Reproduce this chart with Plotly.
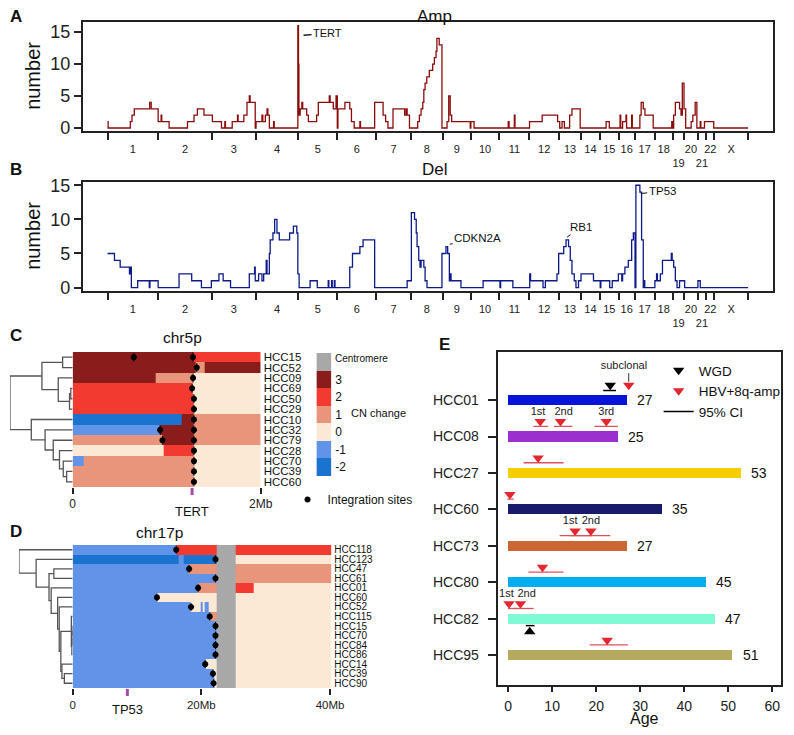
import plotly.graph_objects as go

OFF = 8                      # page body margin the figure sits inside
W, H = 794 - 2 * OFF, 735 - 2 * OFF
FONT = "Arial, Liberation Sans, sans-serif"

# ---------------- A / B : recurrent Amp / Del counts along the genome ----------------
chrom_names = ["1", "2", "3", "4", "5", "6", "7", "8", "9", "10", "11", "12", "13",
               "14", "15", "16", "17", "18", "19", "20", "21", "22", "X"]
# cumulative chromosome ends (Mb, approximate)
chrom_ends = [240, 495, 703, 905, 1089, 1273, 1438, 1589, 1721, 1857, 1999, 2140, 2244,
              2333, 2423, 2498, 2593, 2678, 2734, 2796, 2838, 2876, 3036]

# (genome position Mb, number of samples) step points
amp_steps = [(0, 1), (3, 0), (108, 1), (116, 2), (127, 3), (200, 4), (207, 3), (240, 1), (254, 2), (257, 1),
             (292, 0), (379, 1), (410, 2), (426, 3), (457, 2), (497, 1), (540, 0), (556, 1), (559, 0), (591, 1),
             (616, 2), (619, 1), (646, 2), (661, 4), (672, 5), (676, 4), (700, 0), (704, 1), (732, 2), (736, 1),
             (748, 2), (756, 3), (760, 2), (767, 0), (787, 1), (790, 0), (902, 16), (905, 10), (907, 2), (913, 3),
             (921, 4), (925, 3), (944, 2), (952, 1), (991, 2), (999, 4), (1051, 5), (1055, 4), (1070, 3), (1083, 5),
             (1089, 0), (1092, 3), (1125, 4), (1148, 3), (1156, 1), (1169, 0), (1196, 1), (1199, 0), (1266, 4),
             (1306, 2), (1318, 1), (1329, 0), (1353, 3), (1408, 2), (1415, 3), (1420, 2), (1431, 0), (1470, 1),
             (1478, 2), (1486, 3), (1494, 4), (1499, 6), (1505, 7), (1513, 8), (1525, 9), (1541, 10), (1549, 11),
             (1557, 12), (1561, 14), (1572, 13), (1585, 0), (1609, 1), (1617, 5), (1624, 2), (1631, 1), (1719, 0),
             (1722, 1), (1737, 0), (1899, 1), (1903, 0), (1928, 2), (1931, 0), (2000, 1), (2060, 2), (2133, 1),
             (2143, 0), (2154, 1), (2165, 0), (2190, 2), (2201, 3), (2240, 0), (2363, 1), (2378, 0), (2429, 2),
             (2432, 0), (2441, 1), (2457, 2), (2460, 0), (2484, 2), (2487, 0), (2523, 2), (2529, 4), (2539, 3),
             (2547, 2), (2586, 0), (2674, 1), (2677, 0), (2683, 2), (2691, 4), (2711, 3), (2718, 2), (2724, 7),
             (2732, 3), (2740, 0), (2766, 1), (2774, 2), (2785, 4), (2793, 0), (2809, 1), (2812, 0), (2829, 1),
             (2873, 0), (3036, 0)]

del_steps = [(0, 5), (33, 4), (60, 3), (104, 2), (108, 3), (113, 0), (143, 1), (198, 0), (201, 1), (240, 0),
             (339, 2), (399, 1), (445, 0), (492, 1), (528, 2), (548, 1), (583, 0), (672, 2), (697, 3), (700, 1),
             (716, 2), (732, 1), (740, 2), (752, 4), (756, 2), (767, 5), (771, 7), (784, 8), (792, 10), (803, 8),
             (814, 7), (863, 8), (881, 9), (897, 8), (902, 2), (908, 0), (960, 1), (994, 0), (1046, 1), (1049, 0),
             (1062, 1), (1065, 0), (1075, 1), (1078, 0), (1148, 3), (1161, 5), (1196, 6), (1211, 7), (1266, 0),
             (1420, 1), (1440, 11), (1455, 10), (1463, 8), (1467, 6), (1475, 4), (1481, 3), (1486, 4), (1499, 3),
             (1505, 1), (1514, 0), (1585, 5), (1604, 6), (1612, 5), (1620, 1), (1624, 2), (1628, 1), (1675, 0),
             (1780, 1), (1860, 0), (1863, 1), (1921, 0), (2001, 2), (2005, 1), (2064, 0), (2075, 1), (2130, 2),
             (2138, 5), (2162, 6), (2173, 7), (2185, 6), (2193, 4), (2201, 2), (2212, 1), (2220, 0), (2232, 1),
             (2244, 2), (2303, 1), (2335, 0), (2338, 1), (2380, 0), (2392, 1), (2421, 2), (2437, 1), (2441, 2),
             (2452, 3), (2468, 4), (2484, 7), (2492, 8), (2500, 0), (2504, 15), (2523, 14), (2531, 7), (2539, 0),
             (2542, 1), (2546, 0), (2594, 1), (2602, 2), (2606, 1), (2620, 2), (2630, 4), (2672, 5), (2676, 4),
             (2683, 3), (2691, 1), (2699, 0), (2711, 1), (2735, 0), (2798, 1), (2809, 0), (3036, 0)]

# gene labels: (name, position Mb, count at label anchor)
amp_genes = [("TERT", 929, 14.5)]
del_genes = [("CDKN2A", 1622, 6.35), ("RB1", 2178, 7.4), ("TP53", 2527, 13.8)]

# ---------------- C : chr5p copy number ----------------
c_samples = ["HCC15", "HCC52", "HCC09", "HCC69", "HCC50", "HCC29", "HCC10",
             "HCC32", "HCC79", "HCC28", "HCC70", "HCC39", "HCC60"]
c_ends = [[1.29, 2.0], [1.31, 1.40, 2.0], [0.885, 1.29, 2.0], [1.28, 2.0], [1.29, 2.0], [1.29, 2.0],
          [1.16, 1.29, 2.0], [0.93, 1.29, 2.0], [0.955, 1.29, 2.0], [0.97, 1.29, 2.0], [0.12, 1.29, 2.0],
          [1.29, 2.0], [1.29, 2.0]]
c_states = [[3, 2], [3, 1, 3], [3, 1, 0], [2, 0], [2, 0], [2, 0], [-2, 3, 1], [-1, 3, 1], [1, 3, 1],
            [0, 2, 0], [-1, 1, 0], [1, 0], [1, 0]]
c_site_sample = ["HCC15", "HCC15", "HCC52", "HCC09", "HCC69", "HCC50", "HCC29", "HCC10", "HCC32",
                 "HCC32", "HCC79", "HCC79", "HCC28", "HCC70", "HCC39", "HCC60"]
c_site_pos = [0.65, 1.28, 1.32, 1.28, 1.27, 1.29, 1.29, 1.29, 0.93, 1.29, 0.955, 1.29, 1.29, 1.29, 1.29, 1.29]
tert_pos = 1.27
c_merges = [("HCC15", "HCC52", 0.16), ("HCC69", "HCC50", 0.03), ("m1", "HCC29", 0.05),
            ("HCC09", "m2", 0.23), ("m0", "m3", 0.49), ("HCC39", "HCC60", 0.096), ("HCC70", "m5", 0.15),
            ("HCC28", "m6", 0.21), ("HCC79", "m7", 0.31), ("HCC32", "m8", 0.44), ("HCC10", "m9", 0.66),
            ("m4", "m10", 1.0)]

# ---------------- D : chr17p copy number ----------------
d_samples = ["HCC118", "HCC123", "HCC47", "HCC61", "HCC01", "HCC60", "HCC52", "HCC115",
             "HCC15", "HCC70", "HCC84", "HCC86", "HCC14", "HCC39", "HCC90"]
d_ends = [[16.1, 40.2], [16.5, 17.3, 22.4, 40.2], [18.1, 40.2], [22.4, 40.2], [19.5, 22.4, 28.1, 40.2],
          [13.1, 40.2], [18.4, 19.9, 20.2, 20.5, 21.1, 40.2], [21.5, 22.4, 40.2], [22.4, 40.2], [22.4, 40.2],
          [22.4, 40.2], [22.4, 40.2], [20.7, 40.2], [21.9, 40.2], [22.1, 40.2]]
d_states = [[-1, 2], [-2, -1, -2, 0], [-1, 1], [-1, 1], [-1, 1, 2, 0], [-1, 0], [-1, 0, -1, 0, -1, 0],
            [-1, 1, 0], [-1, 0], [-1, 0], [-1, 0], [-1, 0], [-1, 0], [-1, 0], [-1, 0]]
d_centromere = (22.4, 25.3)
d_site_sample = d_samples
d_site_pos = [16.1, 22.2, 18.1, 22.2, 19.5, 13.1, 18.4, 21.3, 22.2, 22.2, 22.2, 22.2, 20.6, 21.8, 21.9]
tp53_pos = 8.5
d_merges = [("HCC47", "HCC61", 0.35), ("HCC39", "HCC90", 0.155), ("HCC14", "m1", 0.20),
            ("HCC15", "HCC70", 0.01), ("m3", "HCC84", 0.012), ("m4", "HCC86", 0.015),
            ("HCC115", "m5", 0.025), ("m6", "m2", 0.22), ("HCC52", "m7", 0.25), ("HCC60", "m8", 0.28),
            ("HCC01", "m9", 0.40), ("m0", "m10", 0.44), ("HCC123", "m11", 0.68), ("HCC118", "m12", 1.0)]

cn_levels = [-2, -1, 0, 1, 2, 3, 4]          # 4 = centromere
cn_colors = ["#1a74cf", "#6193e8", "#fbe8d5", "#e9957b", "#f23a30", "#8b1c1c", "#a8a8a8"]

# ---------------- E : timing of events ----------------
e_samples = ["HCC01", "HCC08", "HCC27", "HCC60", "HCC73", "HCC80", "HCC82", "HCC95"]
e_age = [27, 25, 53, 35, 27, 45, 47, 51]
e_colors = ["#0a14d8", "#9b30cf", "#f7cf00", "#1a1a6b", "#cc6633", "#00aeef", "#7ffad4", "#b5a95f"]

hbv_sample = ["HCC01", "HCC08", "HCC08", "HCC08", "HCC27", "HCC60", "HCC73", "HCC73",
              "HCC80", "HCC82", "HCC82", "HCC95"]
hbv_age = [27.4, 7.3, 11.9, 22.3, 6.8, 0.4, 15.2, 18.8, 7.8, 0.2, 2.8, 22.5]
hbv_lo = [None, 5.7, 10.4, 19.6, 3.5, -0.2, 11.7, 14.0, 4.6, 0.0, 1.5, 18.5]
hbv_hi = [None, 9.1, 14.6, 24.9, 12.6, 1.3, 19.0, 23.2, 12.6, 2.1, 5.8, 27.2]
hbv_tag = ["subclonal", "1st", "2nd", "3rd", "", "", "1st", "2nd", "", "1st", "2nd", ""]
hbv_tag_age = [26.3, 6.8, 12.6, 22.3, None, None, 14.1, 18.8, None, -0.4, 4.2, None]

wgd_sample = ["HCC01", "HCC82"]
wgd_age = [23.2, 4.9]
wgd_lo = [21.6, 4.0]
wgd_hi = [24.5, 6.0]
wgd_below = [False, True]


def px(x):
    return (x - OFF) / W


def py(y):
    return 1 - (y - OFF) / H


def seg_grid(ends_list, states_list, centromere=None):
    edges = {0.0}
    for ends in ends_list:
        edges.update(ends)
    if centromere:
        edges.update(centromere)
    edges = sorted(edges)
    z = []
    for ends, states in zip(ends_list, states_list):
        row = []
        for a, b in zip(edges[:-1], edges[1:]):
            mid = (a + b) / 2
            if centromere and centromere[0] <= mid <= centromere[1]:
                row.append(4)
                continue
            val = states[-1]
            for e, s in zip(ends, states):
                if mid < e:
                    val = s
                    break
            row.append(val)
        z.append(row)
    return edges, z


def dendro_lines(leaves, merges):
    pos = {name: (i, 0.0) for i, name in enumerate(leaves)}
    xs, ys = [], []
    for k, (a, b, h) in enumerate(merges):
        ya, ha = pos[a]
        yb, hb = pos[b]
        xs += [ha, h, h, hb, None]
        ys += [ya, ya, yb, yb, None]
        pos[f"m{k}"] = ((ya + yb) / 2, h)
    return xs, ys


cscale = []
for i, c in enumerate(cn_colors):
    cscale += [[i / 7, c], [(i + 1) / 7, c]]

site_marker = dict(symbol="asterisk-open", size=5, color="black", line=dict(width=2, color="black"))
site_err = dict(type="constant", value=0.42, thickness=1, width=0, color="black")

fig = go.Figure()

# A / B lines
fig.add_trace(go.Scatter(x=[p for p, v in amp_steps], y=[v for p, v in amp_steps], mode="lines",
                         line=dict(color="#8b0a0a", width=1.3, shape="hv"), xaxis="x", yaxis="y",
                         showlegend=False, hoverinfo="skip"))
fig.add_trace(go.Scatter(x=[p for p, v in del_steps], y=[v for p, v in del_steps], mode="lines",
                         line=dict(color="#0d1a8a", width=1.3, shape="hv"), xaxis="x2", yaxis="y2",
                         showlegend=False, hoverinfo="skip"))

# C heatmap + dendrogram + sites
c_edges, c_z = seg_grid(c_ends, c_states)
fig.add_trace(go.Heatmap(x=c_edges, y=list(range(len(c_samples))), z=c_z, colorscale=cscale,
                         zmin=-2.5, zmax=4.5, showscale=False, xaxis="x3", yaxis="y3", hoverinfo="skip"))
cx, cy = dendro_lines(c_samples, c_merges)
fig.add_trace(go.Scatter(x=cx, y=cy, mode="lines", line=dict(color="#555", width=1.3),
                         xaxis="x4", yaxis="y4", showlegend=False, hoverinfo="skip"))
fig.add_trace(go.Scatter(x=c_site_pos, y=[c_samples.index(s) for s in c_site_sample], mode="markers",
                         marker=site_marker, error_y=site_err,
                         xaxis="x3", yaxis="y3", name="Integration sites", legend="legend2",
                         showlegend=True, hoverinfo="skip"))

# D heatmap + dendrogram + sites
d_edges, d_z = seg_grid(d_ends, d_states, d_centromere)
fig.add_trace(go.Heatmap(x=d_edges, y=list(range(len(d_samples))), z=d_z, colorscale=cscale,
                         zmin=-2.5, zmax=4.5, showscale=False, xaxis="x5", yaxis="y5", hoverinfo="skip"))
dx, dy = dendro_lines(d_samples, d_merges)
fig.add_trace(go.Scatter(x=dx, y=dy, mode="lines", line=dict(color="#555", width=1.3),
                         xaxis="x6", yaxis="y6", showlegend=False, hoverinfo="skip"))
fig.add_trace(go.Scatter(x=d_site_pos, y=[d_samples.index(s) for s in d_site_sample], mode="markers",
                         marker=site_marker, error_y=site_err,
                         xaxis="x5", yaxis="y5", showlegend=False, hoverinfo="skip"))

# C colour key (top: centromere, then 3 .. -2)
key_levels = [4] + sorted(cn_levels[:-1], reverse=True)
fig.add_trace(go.Heatmap(x=[0], y=list(range(len(key_levels))), z=[[v] for v in key_levels],
                         colorscale=cscale, zmin=-2.5, zmax=4.5, showscale=False,
                         xaxis="x8", yaxis="y8", hoverinfo="skip"))

# E bars
rows = list(range(len(e_samples)))
fig.add_trace(go.Bar(x=e_age, y=rows, base=0, orientation="h", width=0.28,
                     marker=dict(color=e_colors, line=dict(width=0)),
                     xaxis="x7", yaxis="y7", showlegend=False, hoverinfo="skip"))

# WGD CI (legend entry "95% CI") and HBV CIs
wx, wy = [], []
for s, lo, hi, below in zip(wgd_sample, wgd_lo, wgd_hi, wgd_below):
    r = e_samples.index(s)
    yy = r + 0.19 if below else r - 0.26
    wx += [lo, hi, None]
    wy += [yy, yy, None]
hx, hy = [], []
for s, lo, hi in zip(hbv_sample, hbv_lo, hbv_hi):
    if lo is None:
        continue
    r = e_samples.index(s)
    hx += [lo, hi, None]
    hy += [r - 0.28, r - 0.28, None]
fig.add_trace(go.Scatter(x=hx, y=hy, mode="lines", line=dict(color="#e0505a", width=1.3),
                         xaxis="x7", yaxis="y7", showlegend=False, hoverinfo="skip"))

# WGD triangles
for below in (False, True):
    xs = [a for a, b in zip(wgd_age, wgd_below) if b == below]
    ys = [e_samples.index(s) + (0.36 if below else -0.41) for s, b in zip(wgd_sample, wgd_below) if b == below]
    fig.add_trace(go.Scatter(x=xs, y=ys, mode="markers",
                             marker=dict(symbol="triangle-up" if below else "triangle-down", size=10, color="black"),
                             xaxis="x7", yaxis="y7", name="WGD", showlegend=not below, legendrank=1,
                             hoverinfo="skip"))
fig.add_trace(go.Scatter(x=hbv_age, y=[e_samples.index(s) - 0.41 for s in hbv_sample], mode="markers",
                         marker=dict(symbol="triangle-down", size=10, color="#e3262f"),
                         xaxis="x7", yaxis="y7", name="HBV+8q-amp", legendrank=2, hoverinfo="skip"))
fig.add_trace(go.Scatter(x=wx, y=wy, mode="lines", line=dict(color="black", width=1.5),
                         xaxis="x7", yaxis="y7", name="95% CI", legendrank=3, hoverinfo="skip"))

# event tags
tx, ty, tt = [], [], []
for s, a, t, ta in zip(hbv_sample, hbv_age, hbv_tag, hbv_tag_age):
    if not t:
        continue
    r = e_samples.index(s)
    if t == "subclonal":
        fig.add_trace(go.Scatter(x=[a, a], y=[r - 0.74, r - 0.5], mode="lines",
                                 line=dict(color="#333", width=1), xaxis="x7", yaxis="y7",
                                 showlegend=False, hoverinfo="skip"))
        ty.append(r - 0.93)
    else:
        ty.append(r - 0.68)
    tx.append(ta)
    tt.append(t)
fig.add_trace(go.Scatter(x=tx, y=ty, text=tt, mode="text", textposition="middle center",
                         textfont=dict(size=11, color="#222"), xaxis="x7", yaxis="y7",
                         showlegend=False, hoverinfo="skip"))

# ---------------- layout ----------------
chrom_starts = [0] + chrom_ends[:-1]
chrom_mids = [(a + b) / 2 for a, b in zip(chrom_starts, chrom_ends)]
chrom_text = ["<br>" + n if n in ("19", "21") else n for n in chrom_names]

genome_x = dict(range=[-118, 3154], showline=True, mirror=True, linecolor="#222", linewidth=1.5,
                showgrid=False, zeroline=False, tickmode="array", tickvals=chrom_mids, ticktext=chrom_text,
                tickangle=0, automargin=False,
                ticks="outside", ticklen=7, tickcolor="rgba(0,0,0,0)", tickfont=dict(size=11, color="#222"),
                minor=dict(tickmode="array", tickvals=chrom_starts + [chrom_ends[-1]], ticks="outside",
                           ticklen=7, tickcolor="#222", tickwidth=1.5))
count_y = dict(showline=True, mirror=True, linecolor="#222", linewidth=1.5, showgrid=False, zeroline=False,
               tickvals=[0, 5, 10, 15], ticks="outside", ticklen=7, tickwidth=1.5, tickcolor="#222",
               tickfont=dict(size=18, color="#222"), automargin=False)
hidden = dict(visible=False, showgrid=False, zeroline=False, automargin=False)

fig.update_layout(
    template="none",
    width=W, height=H, margin=dict(l=0, r=0, t=0, b=0, pad=0),
    paper_bgcolor="white", plot_bgcolor="white",
    font=dict(family=FONT, color="#111"),
    xaxis=dict(genome_x, domain=[px(83), px(777)], anchor="y"),
    yaxis=dict(count_y, domain=[py(131), py(22)], range=[-0.47, 16.57], anchor="x"),
    xaxis2=dict(genome_x, domain=[px(83), px(777)], anchor="y2"),
    yaxis2=dict(count_y, domain=[py(291), py(182)], range=[-0.5, 15.48], anchor="x2"),
    xaxis3=dict(domain=[px(73), px(262)], range=[0, 2.0], anchor="y3", showgrid=False, zeroline=False,
                showline=False, tickvals=[0, 2], ticktext=["0", "2Mb"], ticks="outside", ticklen=6, tickwidth=2,
                tickcolor="#222", tickfont=dict(size=12, color="#222"), automargin=False),
    yaxis3=dict(domain=[py(487), py(352)], range=[len(c_samples) - 0.5, -0.5], anchor="x3", side="right",
                showgrid=False, zeroline=False, showline=False, tickvals=list(range(len(c_samples))),
                ticktext=c_samples, ticks="", tickfont=dict(size=11.5, color="#111"), ticklabelstandoff=2,
                automargin=False),
    xaxis4=dict(hidden, domain=[px(10), px(73)], range=[1.0, 0], anchor="y4"),
    yaxis4=dict(hidden, domain=[py(487), py(352)], range=[len(c_samples) - 0.5, -0.5], anchor="x4"),
    xaxis5=dict(domain=[px(73), px(333)], range=[0, 40.2], anchor="y5", showgrid=False, zeroline=False,
                showline=False, tickvals=[0, 20, 40], ticktext=["0", "20Mb", "40Mb"], ticks="outside", ticklen=6,
                tickwidth=2, tickcolor="#222", tickfont=dict(size=11.5, color="#222"), automargin=False),
    yaxis5=dict(domain=[py(688), py(545)], range=[len(d_samples) - 0.5, -0.5], anchor="x5", side="right",
                showgrid=False, zeroline=False, showline=False, tickvals=list(range(len(d_samples))),
                ticktext=d_samples, ticks="", tickfont=dict(size=10, color="#111"), ticklabelstandoff=2,
                automargin=False),
    xaxis6=dict(hidden, domain=[px(19), px(73)], range=[1.0, 0], anchor="y6"),
    yaxis6=dict(hidden, domain=[py(688), py(545)], range=[len(d_samples) - 0.5, -0.5], anchor="x6"),
    xaxis7=dict(domain=[px(501), px(785)], range=[-2.2, 62], anchor="y7", showline=True, mirror=True,
                linecolor="#222", linewidth=1.5, showgrid=False, zeroline=False,
                tickvals=[0, 10, 20, 30, 40, 50, 60], ticks="outside", ticklen=5, tickwidth=1.5,
                tickcolor="#222", tickfont=dict(size=14, color="#222"), ticklabelstandoff=2, automargin=False),
    yaxis7=dict(domain=[py(685), py(352)], range=[7.82, -1.32], anchor="x7", showline=True, mirror=True,
                linecolor="#222", linewidth=1.5, showgrid=False, zeroline=False, tickvals=rows,
                ticktext=e_samples, ticks="outside", ticklen=9, tickwidth=1.5, tickcolor="#222",
                tickfont=dict(size=14, color="#222"), ticklabelstandoff=6, automargin=False),
    xaxis8=dict(hidden, domain=[px(318), px(333)], anchor="y8"),
    yaxis8=dict(domain=[py(476), py(353)], range=[len(key_levels) - 0.5, -0.5], anchor="x8", side="right",
                showgrid=False, zeroline=False, showline=False, tickvals=list(range(len(key_levels))),
                ticktext=[""] + [str(v) for v in key_levels[1:]],
                ticks="", tickfont=dict(size=12, color="#111"), ticklabelstandoff=3, automargin=False),
    legend=dict(x=px(662), y=py(355), xanchor="left", yanchor="top", font=dict(size=13.5, color="#111"),
                bgcolor="rgba(0,0,0,0)", itemwidth=30, tracegroupgap=0),
    legend2=dict(x=px(289), y=py(485), xanchor="left", yanchor="top", font=dict(size=12, color="#111"),
                 bgcolor="rgba(0,0,0,0)", itemwidth=30),
    bargap=0,
)

ann = []


def label(text, x, y, size, bold=False, xanchor="center", **kw):
    ann.append(dict(text=f"<b>{text}</b>" if bold else text, x=px(x), y=py(y), xref="paper", yref="paper",
                    xanchor=xanchor, yanchor="middle", showarrow=False,
                    font=dict(size=size, color="#111"), **kw))


for t, y in [("A", 16), ("B", 169), ("C", 336), ("D", 531)]:
    label(t, 8.5, y, 17, bold=True, xanchor="left")
label("E", 447, 344, 17, bold=True)
label("Amp", 437, 16, 17)
label("Del", 437, 169, 17)
label("number", 33, 76, 20, textangle=-90)
label("number", 33, 236, 20, textangle=-90)
label("chr5p", 183, 338, 15.5)
label("chr17p", 160, 532, 15.5)
label("Centromere", 335, 358, 10, xanchor="left")
label("CN change", 380, 413, 11)
label("Age", 648, 718, 16)

for name, pos, val in amp_genes:
    ann.append(dict(text=name, x=pos, y=val, xref="x", yref="y", showarrow=True, arrowhead=0,
                    arrowwidth=1.3, arrowcolor="#111", ax=24, ay=-2, font=dict(size=11, color="#111")))
for (name, pos, val), (ax, ay) in zip(del_genes, [(28, -6), (14, -10), (22, -2)]):
    ann.append(dict(text=name, x=pos, y=val, xref="x2", yref="y2", showarrow=True, arrowhead=0,
                    arrowwidth=1.0, arrowcolor="#111", ax=ax, ay=ay, font=dict(size=11.5, color="#111")))

ann.append(dict(text="TERT", x=tert_pos, y=py(511), xref="x3", yref="paper", xanchor="center",
                yanchor="middle", showarrow=False, font=dict(size=13, color="#111")))
ann.append(dict(text="TP53", x=tp53_pos, y=py(709), xref="x5", yref="paper", xanchor="center",
                yanchor="middle", showarrow=False, font=dict(size=13, color="#111")))
for i, a in enumerate(e_age):
    ann.append(dict(text=str(a), x=a, y=i, xref="x7", yref="y7", xanchor="left", yanchor="middle", xshift=8,
                    showarrow=False, font=dict(size=14, color="#111")))

fig.update_layout(annotations=ann)

fig.add_shape(type="line", xref="x3", yref="paper", x0=tert_pos, x1=tert_pos, y0=py(488), y1=py(495),
              line=dict(color="#a64ca6", width=3))
fig.add_shape(type="line", xref="x5", yref="paper", x0=tp53_pos, x1=tp53_pos, y0=py(689), y1=py(696),
              line=dict(color="#a64ca6", width=3))

fig.write_html("out.html")
